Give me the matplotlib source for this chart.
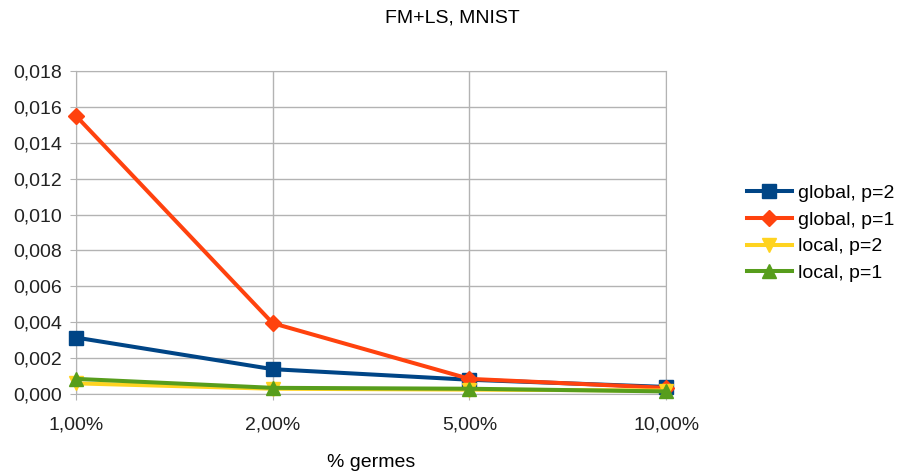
import matplotlib
matplotlib.use("Agg")
import matplotlib.pyplot as plt
from matplotlib.ticker import FuncFormatter

categories = ["1,00%", "2,00%", "5,00%", "10,00%"]
global_p2 = [0.00315, 0.00139, 0.00080, 0.00040]
global_p1 = [0.01550, 0.00395, 0.00085, 0.00035]
local_p2 = [0.00060, 0.00030, 0.00025, 0.00020]
local_p1 = [0.00085, 0.00035, 0.00030, 0.00015]

plt.rcParams["font.family"] = ["Liberation Sans", "DejaVu Sans"]
plt.rcParams["font.size"] = 14

fig = plt.figure(figsize=(9.04, 4.76), dpi=100)
ax = fig.add_axes([0.084, 0.172, 0.653, 0.679])

x = range(len(categories))
series = [
    (global_p2, "global, p=2", "#004586", "s", 10),
    (global_p1, "global, p=1", "#ff420e", "D", 8),
    (local_p2, "local, p=2", "#ffd320", "v", 10),
    (local_p1, "local, p=1", "#579d1c", "^", 10),
]
for vals, lab, col, mk, ms in series:
    ax.plot(x, vals, color=col, marker=mk, markersize=ms, linewidth=2.9,
            label=lab, clip_on=False, zorder=3)

ax.set_xlim(0, 3)
ax.set_ylim(0, 0.018)
ax.set_yticks([i * 0.002 for i in range(10)])
ax.yaxis.set_major_formatter(FuncFormatter(lambda v, p: f"{v:.3f}".replace(".", ",")))
ax.set_xticks(list(x))
ax.set_xticklabels(categories)
ax.grid(True, color="#b3b3b3", linewidth=1, zorder=0)
ax.set_axisbelow(True)
for s in ax.spines.values():
    s.set_color("#b3b3b3")
ax.tick_params(colors="#b3b3b3", labelcolor="#222222", length=4, labelsize=14)
ax.tick_params(axis="x", pad=12)
ax.tick_params(axis="y", pad=6)

ax.set_xlabel("% germes", fontsize=14, labelpad=15)
fig.suptitle("FM+LS, MNIST", x=0.5, y=0.98, fontsize=14)

fig.legend(loc="center left", bbox_to_anchor=(0.807, 0.51), frameon=False,
           fontsize=14, handlelength=2.3, labelspacing=0.47, handletextpad=0.3)

fig.savefig("out.png", dpi=100)
